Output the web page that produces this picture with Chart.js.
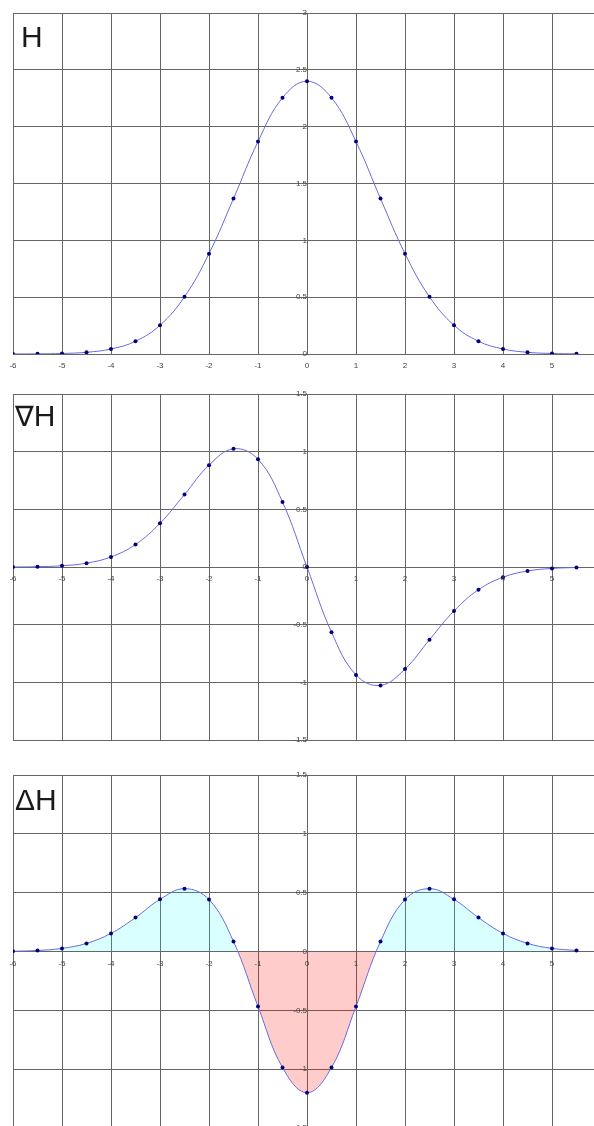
<!DOCTYPE html>
<html>
<head>
<meta charset="utf-8">
<script src="https://cdn.jsdelivr.net/npm/chart.js@4.4.1/dist/chart.umd.min.js"></script>
<style>
  html, body { margin: 0; padding: 0; background: #fff; width: 594px; height: 1126px; overflow: hidden; }
  .wrap { position: absolute; left: 0; }
  .lbl { position: absolute; font-family: "Liberation Sans", Arial, sans-serif; font-size: 30px; line-height: 30px; color: #1a1a1a; white-space: nowrap; }
  .sym { font-family: "DejaVu Sans", sans-serif; font-size: 28px; }
</style>
</head>
<body>
<div class="wrap" style="top:0px"><canvas id="c1" width="620" height="380"></canvas></div>
<div class="wrap" style="top:380px"><canvas id="c2" width="620" height="370"></canvas></div>
<div class="wrap" style="top:760px"><canvas id="c3" width="620" height="380"></canvas></div>
<div class="lbl" style="left:21px;top:22px">H</div>
<div class="lbl" style="left:15px;top:401px"><span class="sym">∇</span>H</div>
<div class="lbl" style="left:15px;top:785px">ΔH</div>
<script>
const xValues = [-6,-5.5,-5,-4.5,-4,-3.5,-3,-2.5,-2,-1.5,-1,-0.5,0,0.5,1,1.5,2,2.5,3,3.5,4,4.5,5,5.5];
const hValues = [0.0003,0.0013,0.0046,0.015,0.044,0.112,0.253,0.503,0.883,1.367,1.869,2.254,2.4,2.254,1.869,1.367,0.883,0.503,0.253,0.112,0.044,0.015,0.0046,0.0013];
const gradValues = [0.001,0.0035,0.0116,0.034,0.088,0.196,0.38,0.629,0.883,1.025,0.934,0.564,0,-0.564,-0.934,-1.025,-0.883,-0.629,-0.38,-0.196,-0.088,-0.034,-0.0116,-0.0035];
const lapValues = [0.0024,0.0088,0.0265,0.069,0.154,0.288,0.443,0.534,0.441,0.085,-0.467,-0.986,-1.2,-0.986,-0.467,0.085,0.441,0.534,0.443,0.288,0.154,0.069,0.0265,0.0088];
const xTicks = [-6,-5,-4,-3,-2,-1,0,1,2,3,4,5,6];

const gridColor = '#666';
const tickFont = { family: '"Liberation Sans", Arial, sans-serif', size: 8 };
const tickColor = '#444';

function makeChart(id, values, yMin, yMax, padding, fill) {
  const ds = {
    data: xValues.map((x, i) => ({ x: x, y: values[i] })),
    borderColor: '#6a6adc',
    borderWidth: 1,
    pointRadius: 2,
    pointBackgroundColor: '#000080',
    pointBorderWidth: 0,
    tension: 0.4,
    fill: false
  };
  if (fill) {
    ds.fill = { target: 'origin', above: 'rgba(0,255,255,0.15)', below: 'rgba(255,0,0,0.2)' };
  }
  return new Chart(document.getElementById(id), {
    type: 'line',
    data: { datasets: [ds] },
    options: {
      responsive: false,
      animation: false,
      events: [],
      layout: { padding: padding },
      plugins: { legend: { display: false }, tooltip: { enabled: false }, filler: { propagate: false } },
      scales: {
        x: {
          type: 'linear',
          min: xTicks[0], max: xTicks[xTicks.length - 1],
          position: { y: 0 },
          afterBuildTicks: (s) => { s.ticks = xTicks.map(v => ({ value: v })); },
          grid: { color: gridColor, drawTicks: false, lineWidth: 1, z: 0 },
          border: { display: false },
          ticks: { font: tickFont, color: tickColor, padding: 7, maxRotation: 0, autoSkip: false, z: 1, callback: (v) => String(v) }
        },
        y: {
          type: 'linear',
          min: yMin, max: yMax,
          position: { x: 0 },
          ticks: { stepSize: 0.5, font: tickFont, color: tickColor, padding: 5, z: 1, callback: (v) => String(v) },
          grid: { color: gridColor, drawTicks: false, lineWidth: 1 },
          border: { display: false }
        }
      }
    }
  });
}

makeChart('c1', hValues, 0, 3, { left: 13, top: 13, right: 19, bottom: 26 }, false);
makeChart('c2', gradValues, -1.5, 1.5, { left: 13, top: 14, right: 19, bottom: 6 }, false);
makeChart('c3', lapValues, -1.5, 1.5, { left: 13, top: 15, right: 19, bottom: 12 }, true);
</script>
</body>
</html>
